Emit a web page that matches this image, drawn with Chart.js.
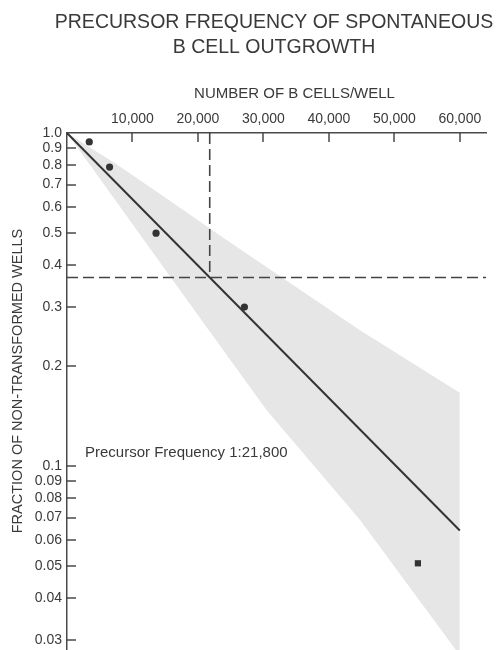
<!DOCTYPE html>
<html>
<head>
<meta charset="utf-8">
<script src="https://cdn.jsdelivr.net/npm/chart.js@4.4.1/dist/chart.umd.min.js"></script>
<style>
  html, body { margin: 0; padding: 0; background: #fff; }
  #wrap { width: 496px; height: 650px; }
</style>
</head>
<body>
<div id="wrap"><canvas id="myChart"></canvas></div>
<script>
// limiting dilution data
const cellsPerWell = [3400, 6500, 13600, 27100, 53600];
const fractionNegative = [0.94, 0.79, 0.50, 0.30, 0.051];
const pointShapes = ['circle', 'circle', 'circle', 'circle', 'rect'];

// fitted line and its confidence band
const fitX = [0, 60000];
const fitY = [1.0, 0.064];
const bandUpperX = [0, 7400, 15000, 24200, 44700, 60000];
const bandUpperY = [1.0, 0.81, 0.64, 0.48, 0.256, 0.166];
const bandLowerX = [0, 20200, 30500, 44700, 60000];
const bandLowerY = [1.0, 0.28, 0.147, 0.069, 0.027];

// 37% (1/e) read-off
const precursorCells = 21800;
const fraction37 = 0.368;

const xTicks = [10000, 20000, 30000, 40000, 50000, 60000];
const yTicks = [1.0, 0.9, 0.8, 0.7, 0.6, 0.5, 0.4, 0.3, 0.2, 0.1, 0.09, 0.08, 0.07, 0.06, 0.05, 0.04, 0.03];

const titleLines = ['PRECURSOR FREQUENCY OF SPONTANEOUS', 'B CELL OUTGROWTH'];
const xTitle = 'NUMBER OF B CELLS/WELL';
const yTitle = 'FRACTION OF NON-TRANSFORMED WELLS';
const note = 'Precursor Frequency 1:21,800';

const textColor = '#3a3a3a';
const axisColor = '#4a4a4a';
const fontFamily = '"Liberation Sans", Arial, Helvetica, sans-serif';

const toPoints = (xs, ys) => xs.map((x, i) => ({ x, y: ys[i] }));

const extras = {
    id: 'extras',
    afterDraw(chart) {
        const { ctx, chartArea, scales: { x, y } } = chart;
        ctx.save();
        // tick marks point inward
        ctx.strokeStyle = axisColor;
        ctx.lineWidth = 1.5;
        ctx.beginPath();
        xTicks.forEach(v => {
            const px = Math.round(x.getPixelForValue(v));
            ctx.moveTo(px, chartArea.top);
            ctx.lineTo(px, chartArea.top + 9);
        });
        yTicks.forEach(v => {
            if (v >= 1) return;
            const py = Math.round(y.getPixelForValue(v));
            ctx.moveTo(chartArea.left, py);
            ctx.lineTo(chartArea.left + 9, py);
        });
        ctx.stroke();

        ctx.fillStyle = textColor;
        ctx.textBaseline = 'middle';
        ctx.textAlign = 'center';

        ctx.font = '19.5px ' + fontFamily;
        titleLines.forEach((t, i) => ctx.fillText(t, 274, 23 + i * 25));

        ctx.font = '15px ' + fontFamily;
        ctx.fillText(xTitle, (chartArea.left + chartArea.right) / 2 + 18, chartArea.top - 39);

        ctx.save();
        ctx.translate(18, 381);
        ctx.rotate(-Math.PI / 2);
        ctx.font = '14.5px ' + fontFamily;
        ctx.fillText(yTitle, 0, 0);
        ctx.restore();

        ctx.textAlign = 'left';
        ctx.font = '15px ' + fontFamily;
        ctx.fillText(note, chartArea.left + 18, 453);
        ctx.restore();
    }
};

const ctx = document.getElementById('myChart').getContext('2d');

const myChart = new Chart(ctx, {
    type: 'scatter',
    data: {
        datasets: [
            {
                label: 'wells',
                data: toPoints(cellsPerWell, fractionNegative),
                pointStyle: pointShapes,
                pointRadius: [3.6, 3.6, 3.6, 3.6, 4.4],
                backgroundColor: '#333',
                borderColor: '#333',
                borderWidth: 0
            },
            {
                label: 'fit',
                data: toPoints(fitX, fitY),
                showLine: true,
                pointRadius: 0,
                borderColor: '#333',
                borderWidth: 2
            },
            {
                label: 'vertical',
                data: [{ x: precursorCells, y: 1.0 }, { x: precursorCells, y: fraction37 }],
                showLine: true,
                pointRadius: 0,
                borderColor: '#444',
                borderWidth: 1.6,
                borderDash: [11, 5]
            },
            {
                label: 'horizontal',
                data: [{ x: 0, y: fraction37 }, { x: 64000, y: fraction37 }],
                showLine: true,
                pointRadius: 0,
                borderColor: '#444',
                borderWidth: 1.6,
                borderDash: [11, 5]
            },
            {
                label: 'band upper',
                data: toPoints(bandUpperX, bandUpperY),
                showLine: true,
                pointRadius: 0,
                borderWidth: 0,
                borderColor: 'rgba(0,0,0,0)',
                fill: false
            },
            {
                label: 'band lower',
                data: toPoints(bandLowerX, bandLowerY),
                showLine: true,
                pointRadius: 0,
                borderWidth: 0,
                borderColor: 'rgba(0,0,0,0)',
                backgroundColor: '#e6e6e6',
                fill: '-1'
            }
        ]
    },
    options: {
        responsive: true,
        maintainAspectRatio: false,
        animation: false,
        layout: { autoPadding: false, padding: { left: 0, right: 10, top: 70.5, bottom: 0 } },
        plugins: {
            legend: { display: false },
            tooltip: { enabled: false },
            title: { display: false }
        },
        scales: {
            x: {
                type: 'linear',
                position: 'top',
                min: 0,
                max: 64000,
                afterFit: (scale) => {
                    scale.height = 62.5;
                    scale.paddingLeft = 0;
                    scale.paddingRight = 0;
                },
                afterBuildTicks: (scale) => { scale.ticks = xTicks.map(v => ({ value: v })); },
                grid: { display: true, drawOnChartArea: false, drawTicks: false },
                border: { display: true, color: axisColor, width: 1.5 },
                ticks: {
                    color: textColor,
                    font: { family: fontFamily, size: 14 },
                    padding: 5,
                    maxRotation: 0,
                    autoSkip: false,
                    callback: (v) => v.toLocaleString('en-US')
                }
            },
            y: {
                type: 'logarithmic',
                min: 0.028,
                max: 1.0,
                afterFit: (scale) => {
                    scale.width = 67;
                    scale.paddingTop = 0;
                    scale.paddingBottom = 0;
                },
                afterBuildTicks: (scale) => { scale.ticks = yTicks.slice().reverse().map(v => ({ value: v })); },
                grid: { display: true, drawOnChartArea: false, drawTicks: false },
                border: { display: true, color: axisColor, width: 1.5 },
                ticks: {
                    color: textColor,
                    font: { family: fontFamily, size: 14 },
                    padding: 5,
                    autoSkip: false,
                    callback: (v) => (v >= 0.1 ? v.toFixed(1) : v.toFixed(2))
                }
            }
        }
    },
    plugins: [extras]
});
</script>
</body>
</html>
